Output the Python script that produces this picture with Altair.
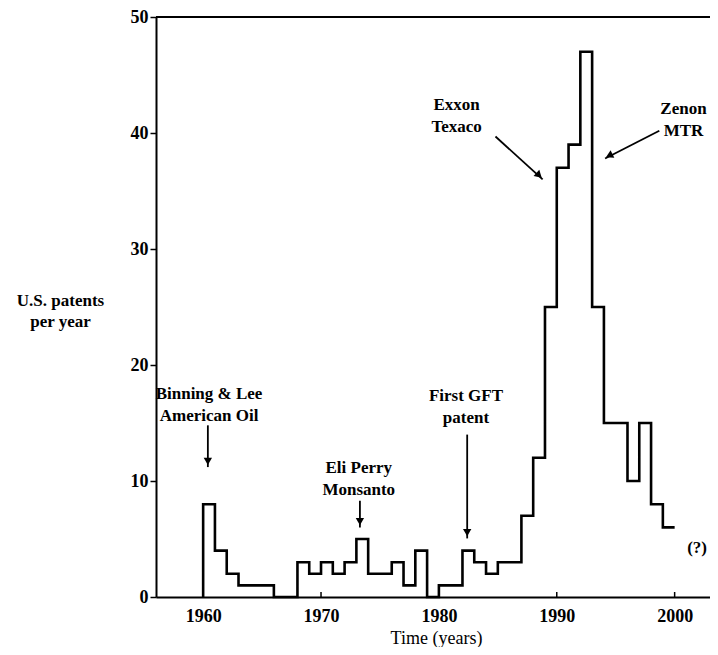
import altair as alt
import pandas as pd

# ---- data ----
years = list(range(1960, 2000))
patents = [8, 4, 2, 1, 1, 1, 0, 0, 3, 2,
           3, 2, 3, 5, 2, 2, 3, 1, 4, 0,
           1, 1, 4, 3, 2, 3, 3, 7, 12, 25,
           37, 39, 47, 25, 15, 15, 10, 15, 8, 6]
end_year = 2000

x_tick_values = [1960, 1970, 1980, 1990, 2000]
y_tick_values = [0, 10, 20, 30, 40, 50]

note_texts = ["Binning & Lee\nAmerican Oil", "Eli Perry\nMonsanto", "First GFT\npatent",
              "Exxon\nTexaco", "Zenon\nMTR", "(?)"]
note_x = [1960.5, 1973.2, 1982.3, 1981.5, 2000.75, 2001.9]
note_y = [17.1, 10.7, 16.9, 42.0, 41.6, 3.8]

arrow_x = [1960.4, 1973.3, 1982.4, 1984.8, 1998.7]
arrow_y = [14.8, 8.3, 14.0, 39.7, 40.2]
arrow_x2 = [1960.4, 1973.3, 1982.4, 1988.8, 1994.1]
arrow_y2 = [11.2, 6.0, 5.05, 36.0, 37.8]
head_x = [1960.4, 1973.3, 1982.4, 1988.5, 1994.45]
head_y = [11.7, 6.5, 5.55, 36.35, 38.05]
head_angle = [180, 180, 180, 133, 243]

FONT = "Liberation Serif"
W, H = 554, 580

# ---- tables ----
step_years = [years[0]] + years + [end_year]
step_vals = [0] + patents + [patents[-1]]
steps = pd.DataFrame({"year": step_years, "count": step_vals, "i": range(len(step_years))})
notes = pd.DataFrame({"x": note_x, "y": note_y, "t": note_texts})
arrows = pd.DataFrame({"x": arrow_x, "y": arrow_y, "x2": arrow_x2, "y2": arrow_y2})
heads_df = pd.DataFrame({"hx": head_x, "hy": head_y, "ha": head_angle})
xticks = pd.DataFrame({"year": x_tick_values})

xs = alt.Scale(domain=[1956, 2003], nice=False)
ys = alt.Scale(domain=[0, 50], nice=False)

line = alt.Chart(steps).mark_line(interpolate="step-after", color="black", strokeWidth=2.6).encode(
    x=alt.X("year:Q", scale=xs, axis=alt.Axis(
        values=x_tick_values, format="d", ticks=False, grid=False, domainColor="black",
        domainWidth=2, labelFont=FONT, labelFontSize=18, labelFontWeight="bold",
        labelColor="black", labelPadding=10, title="Time (years)", titleFont=FONT,
        titleFontSize=18, titleFontWeight="normal", titleColor="black",
        titleBaseline="alphabetic", titleY=46, titleX=W / 2 + 3, titleAnchor="middle")),
    y=alt.Y("count:Q", scale=ys, axis=alt.Axis(
        values=y_tick_values, format="d", tickSize=6, tickColor="black", tickWidth=1.5,
        grid=False, domainColor="black", domainWidth=2, labelFont=FONT, labelFontSize=18,
        labelFontWeight="bold", labelColor="black", labelPadding=2,
        title=["U.S. patents", "per year"], titleAngle=0, titleAlign="center",
        titleBaseline="alphabetic", titleX=-96, titleY=288, titleFont=FONT, titleFontSize=17,
        titleFontWeight="bold", titleColor="black", titleLineHeight=21)),
    order="i:Q",
)

top = alt.Chart(xticks).mark_rule(color="black", strokeWidth=2).encode(
    x=alt.value(0), x2=alt.value(W + 10), y=alt.value(0))

inticks = alt.Chart(xticks).mark_rule(color="black", strokeWidth=1.5).encode(
    x=alt.X("year:Q", scale=xs), y=alt.value(H), y2=alt.value(H - 5))

text = alt.Chart(notes).mark_text(font=FONT, fontSize=17, fontWeight="bold", color="black",
                                  lineBreak="\n", lineHeight=22, align="center",
                                  baseline="alphabetic").encode(
    x=alt.X("x:Q", scale=xs), y=alt.Y("y:Q", scale=ys), text="t:N")

arrow_lines = alt.Chart(arrows).mark_rule(color="black", strokeWidth=1.8).encode(
    x=alt.X("x:Q", scale=xs), y=alt.Y("y:Q", scale=ys),
    x2="x2:Q", y2="y2:Q")

heads = alt.Chart(heads_df).mark_point(shape="triangle-up", filled=True,
                                       color="black", size=70, opacity=1).encode(
    x=alt.X("hx:Q", scale=xs), y=alt.Y("hy:Q", scale=ys), angle=alt.Angle("ha:Q", scale=None))

chart = alt.layer(line, top, inticks, arrow_lines, heads, text).properties(
    width=W, height=H,
    padding={"left": 148, "top": 9, "right": 0, "bottom": 50},
    autosize=alt.AutoSizeParams(type="none"),
).configure_view(stroke=None).configure(background="white")

chart.save("out.html", embed_options={"renderer": "svg", "actions": False})
